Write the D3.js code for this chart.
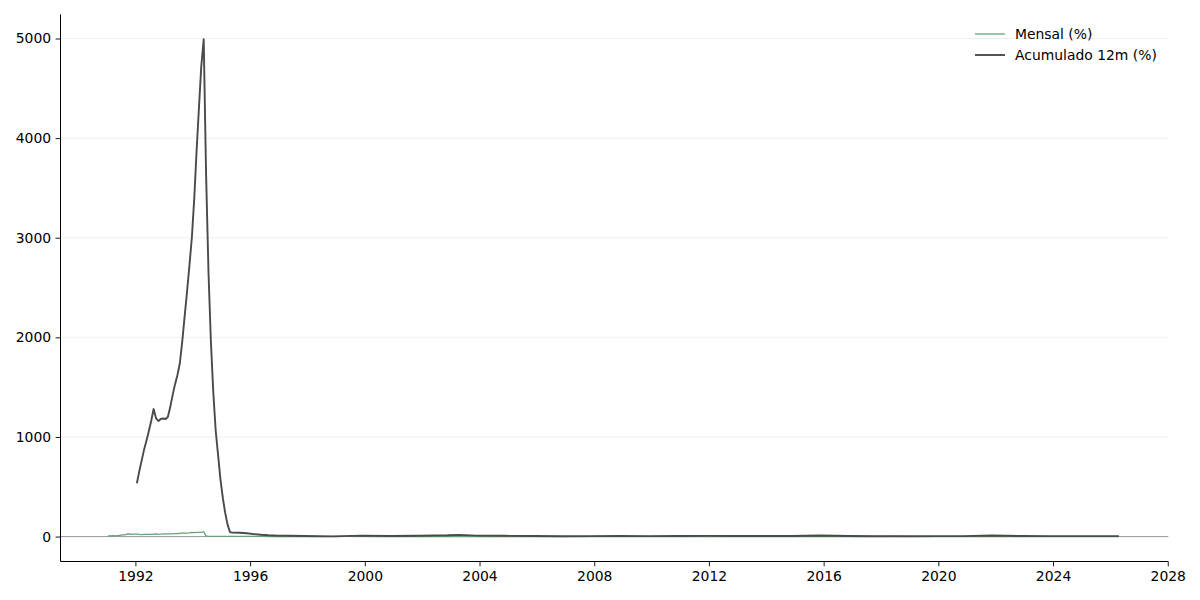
<!DOCTYPE html>
<html>
<head>
<meta charset="utf-8">
<script src="https://cdn.jsdelivr.net/npm/d3@7"></script>
<style>
  html, body { margin: 0; padding: 0; background: #fff; }
  svg { display: block; font-family: "DejaVu Sans", sans-serif; }
</style>
</head>
<body>
<svg id="chart" width="1200" height="600"></svg>
<script>
// ---- data ----
// Monthly inflation (%), dates as "YYYY-MM"
const mensalDates = [
  "1991-02","1991-03","1991-04","1991-05","1991-06","1991-07","1991-08","1991-09","1991-10","1991-11","1991-12",
  "1992-01","1992-02","1992-03","1992-04","1992-05","1992-06","1992-07","1992-08","1992-09","1992-10","1992-11","1992-12",
  "1993-01","1993-02","1993-03","1993-04","1993-05","1993-06","1993-07","1993-08","1993-09","1993-10","1993-11","1993-12",
  "1994-01","1994-02","1994-03","1994-04","1994-05","1994-06","1994-07","1994-08","1994-09","1994-10","1994-11","1994-12",
  "1995-06","1995-12","1996-06","1996-12","1997-06","1998-06","1999-06","2000-06","2001-06","2002-06","2003-06",
  "2004-06","2005-06","2006-06","2007-06","2008-06","2009-06","2010-06","2011-06","2012-06","2013-06","2014-06",
  "2015-06","2016-06","2017-06","2018-06","2019-06","2020-06","2021-06","2022-06","2023-06","2024-06","2025-06","2026-05"
];
const mensalValues = [
  8, 7, 9, 7, 10, 13, 16, 16, 26, 26, 22,
  25, 25, 21, 19, 22, 22, 22, 22, 24, 26, 22, 24,
  28, 26, 27, 28, 28, 30, 31, 33, 35, 35, 35, 37,
  41, 40, 43, 43, 44, 47, 7, 2, 1.5, 2.6, 2.8, 1.7,
  2.3, 1.6, 1.2, 0.5, 0.4, 0.3, 1.2, 0.2, 0.5, 0.4, -0.2,
  0.7, -0.02, 0.1, 0.3, 0.7, 0.4, 0.0, 0.2, 0.1, 0.3, 0.4,
  0.8, 0.4, -0.2, 1.3, 0.0, 0.3, 0.5, -0.7, -0.1, 0.2, 0.2, 0.3
];

// 12-month accumulated inflation (%)
const acumDates = [
  "1992-02","1992-03","1992-04","1992-05","1992-06","1992-07","1992-08","1992-09","1992-10","1992-11","1992-12",
  "1993-01","1993-02","1993-03","1993-04","1993-05","1993-06","1993-07","1993-08","1993-09","1993-10","1993-11","1993-12",
  "1994-01","1994-02","1994-03","1994-04","1994-05","1994-06","1994-07","1994-08","1994-09","1994-10","1994-11","1994-12",
  "1995-01","1995-02","1995-03","1995-04","1995-05","1995-06","1995-09","1995-12",
  "1996-03","1996-06","1996-09","1996-12","1997-06","1997-12","1998-12","1999-12","2000-12","2001-12","2002-12",
  "2003-05","2003-12","2004-12","2005-12","2006-12","2007-12","2008-12","2009-12","2010-12","2011-12","2012-12",
  "2013-12","2014-12","2015-12","2016-12","2017-12","2018-12","2019-12","2020-12","2021-12","2022-12","2023-12",
  "2024-12","2025-12","2026-05"
];
const acumValues = [
  535, 650, 760, 868, 960, 1055, 1160, 1280, 1190, 1160, 1180,
  1185, 1180, 1200, 1300, 1420, 1530, 1620, 1740, 1960, 2210, 2460, 2720,
  3000, 3400, 3850, 4300, 4720, 4992, 3650, 2650, 1950, 1450, 1060, 820,
  570, 380, 240, 120, 45, 40, 38, 33,
  25, 18, 13, 10, 8, 5, 2, 9, 6, 8, 12.5,
  17, 9, 7.6, 5.7, 3.1, 4.5, 5.9, 4.3, 5.9, 6.5, 5.8,
  5.9, 6.4, 10.7, 6.3, 2.9, 3.7, 4.3, 4.5, 10.1, 5.8, 4.6,
  4.8, 4.3, 4.0
];

const yTicks = [0, 1000, 2000, 3000, 4000, 5000];
const xTickYears = [1992, 1996, 2000, 2004, 2008, 2012, 2016, 2020, 2024, 2028];
const seriesNames = ["Mensal (%)", "Acumulado 12m (%)"];
const seriesColors = ["#65a277", "#4a4a4a"];

(function () {
// ---- layout ----
const svg = d3.select("#chart");
const pLeft = 60.5, pRight = 1168.3, pTop = 14.4, pBottom = 561.5;

const parseMonth = d3.timeParse("%Y-%m");
const parse = s => d3.timeDay.offset(parseMonth(s), -12);
const x = d3.scaleTime()
  .domain([new Date(1989, 4, 22), new Date(2028, 0, 8)])
  .range([pLeft, pRight]);
const y = d3.scaleLinear()
  .domain([-250.3, 5242])
  .range([pBottom, pTop]);

const mensal = mensalDates.map((d, i) => ({ date: parse(d), value: mensalValues[i] }));
const acum = acumDates.map((d, i) => ({ date: parse(d), value: acumValues[i] }));

// grid
svg.append("g").selectAll("line").data(yTicks).join("line")
  .attr("x1", pLeft).attr("x2", pRight)
  .attr("y1", d => y(d)).attr("y2", d => y(d))
  .attr("stroke", "#ececec").attr("stroke-width", 0.8);

// zero line
svg.append("line")
  .attr("x1", pLeft).attr("x2", pRight)
  .attr("y1", y(0)).attr("y2", y(0))
  .attr("stroke", "#999").attr("stroke-width", 1);

const line = d3.line().x(d => x(d.date)).y(d => y(d.value));

svg.append("path").datum(mensal)
  .attr("d", line).attr("fill", "none")
  .attr("stroke", seriesColors[0]).attr("stroke-width", 1.3)
  .attr("stroke-linejoin", "round");

svg.append("path").datum(acum)
  .attr("d", line).attr("fill", "none")
  .attr("stroke", seriesColors[1]).attr("stroke-width", 1.9)
  .attr("stroke-linejoin", "round");

// axes
const xAxis = d3.axisBottom(x)
  .tickValues(xTickYears.map(yr => new Date(yr, 0, 1)))
  .tickFormat(d3.timeFormat("%Y"))
  .tickSize(4.9).tickPadding(4.5).tickSizeOuter(0);
const gx = svg.append("g").attr("transform", `translate(0,${pBottom})`).call(xAxis);

const yAxis = d3.axisLeft(y)
  .tickValues(yTicks)
  .tickFormat(d3.format("d"))
  .tickSize(4.9).tickPadding(4.5).tickSizeOuter(0);
const gy = svg.append("g").attr("transform", `translate(${pLeft},0)`).call(yAxis);

[gx, gy].forEach(g => {
  g.select(".domain").remove();
  g.selectAll(".tick line").attr("stroke", "#000").attr("stroke-width", 0.9);
  g.selectAll(".tick text").attr("fill", "#000")
    .style("font-family", "'DejaVu Sans', sans-serif").style("font-size", "13.9px");
});
svg.append("line").attr("x1", pLeft).attr("x2", pRight).attr("y1", pBottom).attr("y2", pBottom)
  .attr("stroke", "#000").attr("stroke-width", 1);
svg.append("line").attr("x1", pLeft).attr("x2", pLeft).attr("y1", pTop).attr("y2", pBottom)
  .attr("stroke", "#000").attr("stroke-width", 1);

// legend
const legend = svg.append("g");
const legendWidths = [1.3, 1.9];
seriesNames.forEach((name, i) => {
  const yy = 34 + i * 21;
  legend.append("line")
    .attr("x1", 975).attr("x2", 1005).attr("y1", yy).attr("y2", yy)
    .attr("stroke", seriesColors[i]).attr("stroke-width", legendWidths[i]);
  legend.append("text")
    .attr("x", 1015).attr("y", yy + 5)
    .attr("fill", "#000")
    .style("font-family", "'DejaVu Sans', sans-serif").style("font-size", "13.9px")
    .text(name);
});
})();
</script>
</body>
</html>
